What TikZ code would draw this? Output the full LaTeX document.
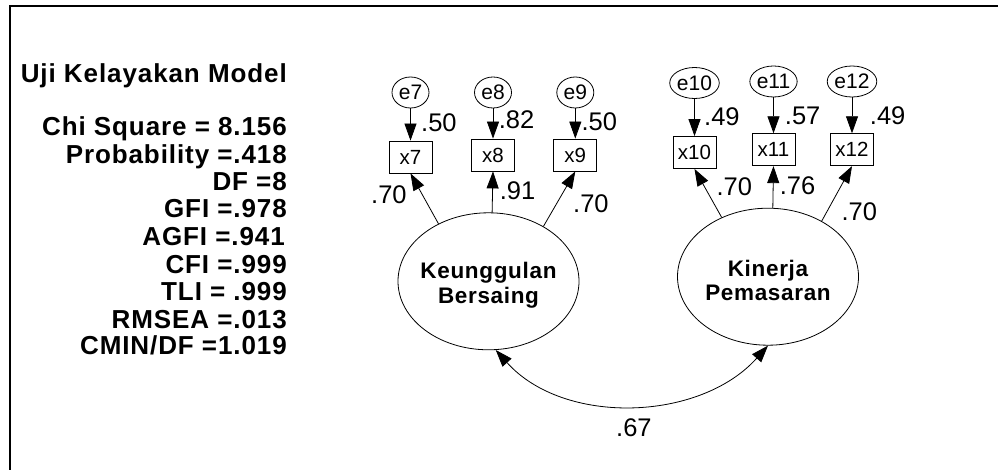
\documentclass[tikz,border=0pt]{standalone}
\usepackage{fontspec}
\setmainfont{Liberation Sans}
\newfontfamily\fitfont[LetterSpace=3.5]{Liberation Sans}
\newfontfamily\latfont[LetterSpace=3]{Liberation Sans}
\usetikzlibrary{arrows.meta,shapes.geometric}

\begin{document}
\begin{tikzpicture}[x=1pt,y=-1pt,
  fitline/.style={font=\fitfont\bfseries\fontsize{26}{27}\selectfont, anchor=base east, inner sep=0pt},
  obs/.style={draw, rectangle, line width=0.8pt, minimum width=43pt, minimum height=32pt, inner sep=0pt, font=\fontsize{20.5}{21}\selectfont},
  err/.style={draw, ellipse, line width=0.8pt, minimum width=37pt, minimum height=31pt, inner sep=0pt, font=\fontsize{21}{22}\selectfont},
  latent/.style={draw, ellipse, line width=0.8pt, minimum width=181pt, minimum height=137pt, inner sep=0pt},
  lattxt/.style={font=\latfont\bfseries\fontsize{22.5}{25}\selectfont, anchor=base, inner sep=0pt},
  coef/.style={font=\fontsize{25.5}{26}\selectfont, anchor=base west, inner sep=0pt},
  arr/.style={-{Triangle[length=17pt,width=12pt]}, line width=0.8pt},
  cov/.style={{Triangle[length=17pt,width=12pt]}-{Triangle[length=17pt,width=12pt]}, line width=0.8pt}]

\useasboundingbox (0,0) rectangle (998,470);
\fill[white] (0,0) rectangle (998,470);

% frame
\draw[line width=2pt] (9.5,475) -- (9.5,6.5) -- (1003,6.5);

% goodness-of-fit summary
\node[fitline] (t0) at (287,82.7) {Uji Kelayakan Model};
\node[fitline] (t1) at (287,136) {Chi Square = 8.156};
\node[fitline] (t2) at (287,164) {Probability =.418};
\node[fitline] (t3) at (287,191) {DF =8};
\node[fitline] (t4) at (287,218) {GFI =.978};
\node[fitline] (t5) at (285,246) {AGFI =.941};
\node[fitline] (t6) at (287,273) {CFI =.999};
\node[fitline] (t7) at (287,300) {TLI = .999};
\node[fitline] (t8) at (287,328) {RMSEA =.013};
\node[fitline] (t9) at (287,354) {CMIN/DF =1.019};

% latent variables
\node[latent] (kb) at (488.5,281.3) {};
\node[lattxt] (kb1) at (488.5,278.3) {Keunggulan};
\node[lattxt] (kb2) at (488.5,303.3) {Bersaing};
\node[latent] (kp) at (768,276.7) {};
\node[lattxt] (kp1) at (768,276.5) {Kinerja};
\node[lattxt] (kp2) at (768,300) {Pemasaran};

% indicators
\node[obs] (x7)  at (410.5,157) {x7};
\node[obs] (x8)  at (493,155) {x8};
\node[obs] (x9)  at (575.3,155) {x9};
\node[obs] (x10) at (694.5,152.5) {x10};
\node[obs] (x11) at (773.5,149.7) {x11};
\node[obs] (x12) at (852,149.7) {x12};

% error terms
\node[err] (e7)  at (410.5,92.5) {e7};
\node[err] (e8)  at (493,92.5) {e8};
\node[err] (e9)  at (575.3,92.5) {e9};
\node[err] (e10) at (694.5,83) {e10};
\node[err] (e11) at (773.5,81.5) {e11};
\node[err] (e12) at (852,81.5) {e12};

% error paths
\draw[arr] (e7) -- (x7);
\draw[arr] (e8) -- (x8);
\draw[arr] (e9) -- (x9);
\draw[arr] (e10) -- (x10);
\draw[arr] (e11) -- (x11);
\draw[arr] (e12) -- (x12);

% loadings
\draw[arr] (kb.131.6) -- (x7.south);
\draw[arr] (kb.87) -- (x8.south);
\draw[arr] (kb.45.6) -- (x9.south);
\draw[arr] (kp.128.5) -- (x10.south);
\draw[arr] (kp.86.5) -- (x11.south);
\draw[arr] (kp.46.6) -- (x12.south);

% covariance
\draw[cov] (kb.-84) .. controls +(68,76) and +(-68,76) .. (kp.-90);

% coefficients
\node[coef] (c1)  at (421,132) {.50};
\node[coef] (c2)  at (498.7,128.3) {.82};
\node[coef] (c3)  at (581.3,130.5) {.50};
\node[coef] (c4)  at (371,203.3) {.70};
\node[coef] (c5)  at (499.7,200) {.91};
\node[coef] (c6)  at (573,212.7) {.70};
\node[coef] (c7)  at (704,126) {.49};
\node[coef] (c8)  at (784.7,124.3) {.57};
\node[coef] (c9)  at (869.7,124.3) {.49};
\node[coef] (c10) at (716.3,196) {.70};
\node[coef] (c11) at (779.7,195) {.76};
\node[coef] (c12) at (841.3,220.7) {.70};
\node[coef] (c13) at (616,436.7) {.67};
\end{tikzpicture}
\end{document}
